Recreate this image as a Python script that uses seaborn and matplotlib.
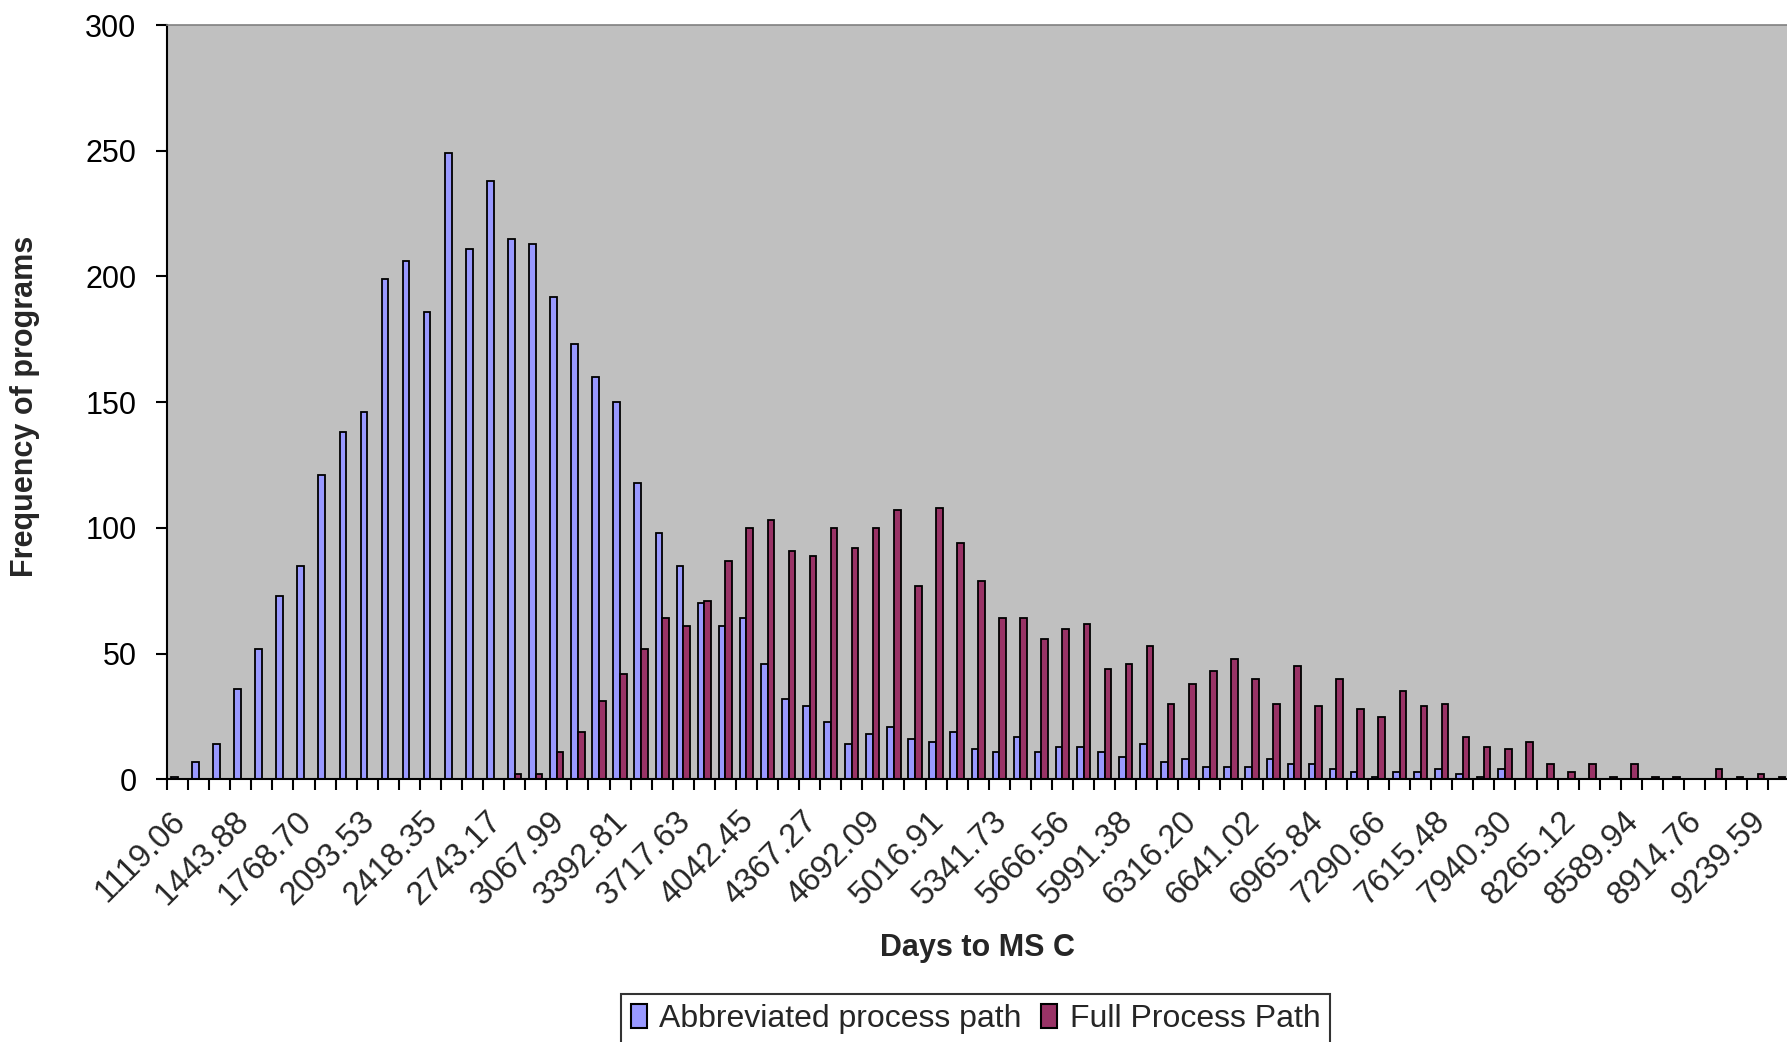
import numpy as np
import pandas as pd
import seaborn as sns
import matplotlib.pyplot as plt
from matplotlib.patches import Patch
from matplotlib.ticker import FixedLocator
from matplotlib.transforms import ScaledTranslation

# --- Data (counts per bin) ---
abbreviated = [1, 7, 14, 36, 52, 73, 85, 121, 138, 146,
               199, 206, 186, 249, 211, 238, 215, 213, 192, 173,
               160, 150, 118, 98, 85, 70, 61, 64, 46, 32,
               29, 23, 14, 18, 21, 16, 15, 19, 12, 11,
               17, 11, 13, 13, 11, 9, 14, 7, 8, 5,
               5, 5, 8, 6, 6, 4, 3, 1, 3, 3,
               4, 2, 1, 4, 0, 0, 0, 0, 0, 0,
               0, 0, 0, 0, 0, 0, 0]
full_path = [0, 0, 0, 0, 0, 0, 0, 0, 0, 0,
             0, 0, 0, 0, 0, 0, 2, 2, 11, 19,
             31, 42, 52, 64, 61, 71, 87, 100, 103, 91,
             89, 100, 92, 100, 107, 77, 108, 94, 79, 64,
             64, 56, 60, 62, 44, 46, 53, 30, 38, 43,
             48, 40, 30, 45, 29, 40, 28, 25, 35, 29,
             30, 17, 13, 12, 15, 6, 3, 6, 1, 6,
             1, 1, 0, 4, 1, 2, 1]
tick_labels = ["1119.06", "1443.88", "1768.70", "2093.53", "2418.35", "2743.17",
               "3067.99", "3392.81", "3717.63", "4042.45", "4367.27", "4692.09",
               "5016.91", "5341.73", "5666.56", "5991.38", "6316.20", "6641.02",
               "6965.84", "7290.66", "7615.48", "7940.30", "8265.12", "8589.94",
               "8914.76", "9239.59"]
label_every = 3
series_names = ["Abbreviated process path", "Full Process Path"]
colors = ["#9999FF", "#993366"]

n_bins = len(abbreviated)
df = pd.DataFrame({
    "bin": list(range(n_bins)) * 2,
    "count": abbreviated + full_path,
    "series": [series_names[0]] * n_bins + [series_names[1]] * n_bins,
})

sns.set_theme(style="ticks")
plt.rcParams["font.family"] = ["Liberation Sans", "DejaVu Sans"]

fig = plt.figure(figsize=(17.87, 10.42), dpi=100)
ax = fig.add_axes([0.0935, 0.252, 0.9065, 0.724])
ax.set_facecolor("#C0C0C0")

sns.barplot(data=df, x="bin", y="count", hue="series", palette=colors,
            saturation=1, width=0.63, edgecolor="black", linewidth=1.3,
            legend=False, ax=ax)

# y axis
ax.set_ylim(0, 300)
ax.set_yticks(range(0, 301, 50))
ax.tick_params(axis="y", labelsize=22, length=8, width=1.5, pad=14, colors="black")
ax.set_ylabel("Frequency of programs", fontsize=22, fontweight="bold")
ax.yaxis.label.set_va("center")
ax.yaxis.set_label_coords(-0.088, 0.495)

# x axis: labels every 3rd bin, tick marks at bin boundaries
ax.set_xlim(-0.5, 76.39)
ax.set_xticks(range(0, n_bins, label_every))
ax.set_xticklabels(tick_labels, rotation=45, ha="right", va="top",
                   rotation_mode="anchor")
ax.xaxis.set_minor_locator(FixedLocator(np.arange(-0.5, n_bins, 1)))
ax.tick_params(axis="x", which="major", labelsize=23.5, length=0, pad=19)
ax.tick_params(axis="x", which="minor", length=8, width=1.5, color="black")
shift = ScaledTranslation(-8 / 100, 0, fig.dpi_scale_trans)
for lbl in ax.get_xticklabels():
    lbl.set_transform(lbl.get_transform() + shift)
ax.set_xlabel("Days to MS C", fontsize=22, fontweight="bold")
ax.xaxis.set_label_coords(0.5, -0.223)
ax.xaxis.label.set_va("center")

for side in ["left", "bottom"]:
    ax.spines[side].set_color("black")
    ax.spines[side].set_linewidth(1.5)
ax.spines["top"].set_color("#808080")
ax.spines["top"].set_linewidth(1.2)
ax.spines["right"].set_visible(False)

handles = [Patch(facecolor=c, edgecolor="black", linewidth=1.5) for c in colors]
leg = fig.legend(handles, series_names, loc="upper center",
                 bbox_to_anchor=(0.546, 0.046), ncol=2, fontsize=23,
                 frameon=True, fancybox=False, edgecolor="black",
                 handlelength=0.5, handleheight=0.8, handletextpad=0.4,
                 columnspacing=0.6, borderpad=0.3, borderaxespad=0)
leg.get_frame().set_linewidth(1.5)

fig.savefig("out.png", dpi=100)
